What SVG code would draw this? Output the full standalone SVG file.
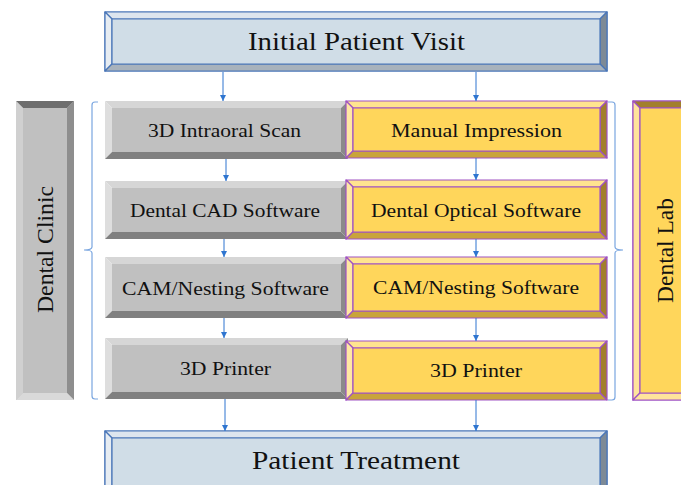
<svg xmlns="http://www.w3.org/2000/svg" width="681" height="485" viewBox="0 0 681 485">
<style>
text{font-family:"Liberation Serif","Times New Roman",serif;fill:#111;text-anchor:middle}
.big{font-size:26px}
.mid{font-size:18px}
.side{font-size:24px}
.b polygon,.b rect{stroke:#4a76b8;stroke-width:1.2;stroke-linejoin:round}
.b .f{fill:#d0dde7}.b .t{fill:#dde5ee}.b .l{fill:#e6ecf2}.b .r{fill:#7d8a97}.b .bo{fill:#a8b2bc}
.g polygon,.g rect{stroke:none}
.g .f{fill:#c0c0c0}.g .t{fill:#d6d6d6}.g .l{fill:#dedede}.g .r{fill:#8a8a8a}.g .bo{fill:#808080}
.gs .t{fill:#6e6e6e}.gs .l{fill:#d0d0d0}.gs .r{fill:#8e8e8e}.gs .bo{fill:#d9d9d9}
.y polygon,.y rect{stroke:#9f52c4;stroke-width:1.2;stroke-linejoin:round}
.y .f{fill:#ffd65b}.y .t{fill:#ffe48f}.y .l{fill:#ffe7a3}.y .r{fill:#a27f2c}.y .bo{fill:#c9a43b}
.ys .t{fill:#a27f2c}.ys .l{fill:#ffe49c}.ys .r{fill:#c9a43b}.ys .bo{fill:#ffe49c}
.c line{stroke:#2e75d0;stroke-width:1;marker-end:url(#ah)}
.br{fill:none;stroke:#7aa6e0;stroke-width:1.2}
</style>
<defs>
<marker id="ah" viewBox="0 0 10 10" refX="10" refY="5" markerWidth="6" markerHeight="6" markerUnits="userSpaceOnUse" orient="auto">
<path d="M0,0 L10,5 L0,10 z" fill="#2e75d0"/>
</marker>
</defs>

<g id="initial-visit" class="b">
<rect class="f" x="105" y="12" width="502" height="59"/>
<polygon class="t" points="105,12 607,12 600,19 112,19"/>
<polygon class="l" points="105,12 112,19 112,64 105,71"/>
<polygon class="r" points="607,12 607,71 600,64 600,19"/>
<polygon class="bo" points="105,71 112,64 600,64 607,71"/>
<rect class="f" x="112" y="19" width="488" height="45"/>
<text class="big" x="356.5" y="50" textLength="217" lengthAdjust="spacingAndGlyphs">Initial Patient Visit</text>
</g>

<g id="dental-clinic" class="g gs">
<rect class="f" x="16" y="101" width="58" height="299"/>
<polygon class="t" points="16,101 74,101 67,108 23,108"/>
<polygon class="l" points="16,101 23,108 23,393 16,400"/>
<polygon class="r" points="74,101 74,400 67,393 67,108"/>
<polygon class="bo" points="16,400 23,393 67,393 74,400"/>
<text class="side" transform="translate(53,249.5) rotate(-90)" x="0" y="0" textLength="127" lengthAdjust="spacingAndGlyphs">Dental Clinic</text>
</g>

<g id="dental-lab" class="y ys">
<rect class="f" x="633" y="101" width="60" height="299"/>
<polygon class="t" points="633,101 693,101 686,108 640,108"/>
<polygon class="l" points="633,101 640,108 640,393 633,400"/>
<polygon class="bo" points="633,400 640,393 686,393 693,400"/>
<rect class="f" x="640" y="108" width="46" height="285"/>
<text class="side" transform="translate(673,250.5) rotate(-90)" x="0" y="0" textLength="105" lengthAdjust="spacingAndGlyphs">Dental Lab</text>
</g>

<g id="scan" class="g">
<polygon class="t" points="105,101 348,101 341,108 112,108"/>
<polygon class="l" points="105,101 112,108 112,152 105,159"/>
<polygon class="r" points="348,101 348,159 341,152 341,108"/>
<polygon class="bo" points="105,159 112,152 341,152 348,159"/>
<rect class="f" x="112" y="108" width="229" height="44"/>
<text class="mid" x="224.5" y="137" textLength="153" lengthAdjust="spacingAndGlyphs">3D Intraoral Scan</text>
</g>

<g id="cad" class="g">
<polygon class="t" points="105,181 348,181 341,188 112,188"/>
<polygon class="l" points="105,181 112,188 112,232 105,239"/>
<polygon class="r" points="348,181 348,239 341,232 341,188"/>
<polygon class="bo" points="105,239 112,232 341,232 348,239"/>
<rect class="f" x="112" y="188" width="229" height="44"/>
<text class="mid" x="225" y="217" textLength="190" lengthAdjust="spacingAndGlyphs">Dental CAD Software</text>
</g>

<g id="cam-clinic" class="g">
<polygon class="t" points="105,257 348,257 341,264 112,264"/>
<polygon class="l" points="105,257 112,264 112,311 105,318"/>
<polygon class="r" points="348,257 348,318 341,311 341,264"/>
<polygon class="bo" points="105,318 112,311 341,311 348,318"/>
<rect class="f" x="112" y="264" width="229" height="47"/>
<text class="mid" x="225.5" y="295" textLength="207" lengthAdjust="spacingAndGlyphs">CAM/Nesting Software</text>
</g>

<g id="printer-clinic" class="g">
<polygon class="t" points="105,338 348,338 341,345 112,345"/>
<polygon class="l" points="105,338 112,345 112,392 105,399"/>
<polygon class="r" points="348,338 348,399 341,392 341,345"/>
<polygon class="bo" points="105,399 112,392 341,392 348,399"/>
<rect class="f" x="112" y="345" width="229" height="47"/>
<text class="mid" x="225.5" y="375" textLength="91" lengthAdjust="spacingAndGlyphs">3D Printer</text>
</g>

<g id="impression" class="y">
<polygon class="t" points="346,101 607,101 600,108 353,108"/>
<polygon class="l" points="346,101 353,108 353,151 346,158"/>
<polygon class="r" points="607,101 607,158 600,151 600,108"/>
<polygon class="bo" points="346,158 353,151 600,151 607,158"/>
<rect class="f" x="353" y="108" width="247" height="43"/>
<text class="mid" x="476.5" y="137" textLength="171" lengthAdjust="spacingAndGlyphs">Manual Impression</text>
</g>

<g id="optical" class="y">
<polygon class="t" points="346,180 607,180 600,187 353,187"/>
<polygon class="l" points="346,180 353,187 353,232 346,239"/>
<polygon class="r" points="607,180 607,239 600,232 600,187"/>
<polygon class="bo" points="346,239 353,232 600,232 607,239"/>
<rect class="f" x="353" y="187" width="247" height="45"/>
<text class="mid" x="476" y="217" textLength="210" lengthAdjust="spacingAndGlyphs">Dental Optical Software</text>
</g>

<g id="cam-lab" class="y">
<polygon class="t" points="346,257 607,257 600,264 353,264"/>
<polygon class="l" points="346,257 353,264 353,311 346,318"/>
<polygon class="r" points="607,257 607,318 600,311 600,264"/>
<polygon class="bo" points="346,318 353,311 600,311 607,318"/>
<rect class="f" x="353" y="264" width="247" height="47"/>
<text class="mid" x="476" y="293.5" textLength="206" lengthAdjust="spacingAndGlyphs">CAM/Nesting Software</text>
</g>

<g id="printer-lab" class="y">
<polygon class="t" points="346,341 607,341 600,348 353,348"/>
<polygon class="l" points="346,341 353,348 353,393 346,400"/>
<polygon class="r" points="607,341 607,400 600,393 600,348"/>
<polygon class="bo" points="346,400 353,393 600,393 607,400"/>
<rect class="f" x="353" y="348" width="247" height="45"/>
<text class="mid" x="476" y="377" textLength="92" lengthAdjust="spacingAndGlyphs">3D Printer</text>
</g>

<g id="treatment" class="b">
<rect class="f" x="105" y="431" width="502" height="61"/>
<polygon class="t" points="105,431 607,431 600,438 112,438"/>
<polygon class="l" points="105,431 112,438 112,485 105,492"/>
<polygon class="r" points="607,431 607,492 600,485 600,438"/>
<rect class="f" x="112" y="438" width="488" height="60"/>
<text class="big" x="356" y="469" textLength="208" lengthAdjust="spacingAndGlyphs">Patient Treatment</text>
</g>

<g id="brackets">
<path class="br" d="M98,102 H95 Q92,102 92,105 V247 Q92,250 84,250 Q92,250 92,253 V396 Q92,399 95,399 H98"/>
<path class="br" d="M608,102 H612 Q615,102 615,105 V247 Q615,250 623,250 Q615,250 615,253 V397 Q615,400 612,400 H608"/>
</g>

<g id="connectors" class="c">
<line x1="223" y1="72" x2="223" y2="101"/>
<line x1="226" y1="159" x2="226" y2="181"/>
<line x1="224" y1="239" x2="224" y2="257"/>
<line x1="224" y1="318" x2="224" y2="338"/>
<line x1="225" y1="399" x2="225" y2="431"/>
<line x1="476" y1="72" x2="476" y2="101"/>
<line x1="476" y1="158" x2="476" y2="180"/>
<line x1="476" y1="239" x2="476" y2="257"/>
<line x1="476" y1="318" x2="476" y2="341"/>
<line x1="476" y1="400" x2="476" y2="431"/>
</g>
</svg>
